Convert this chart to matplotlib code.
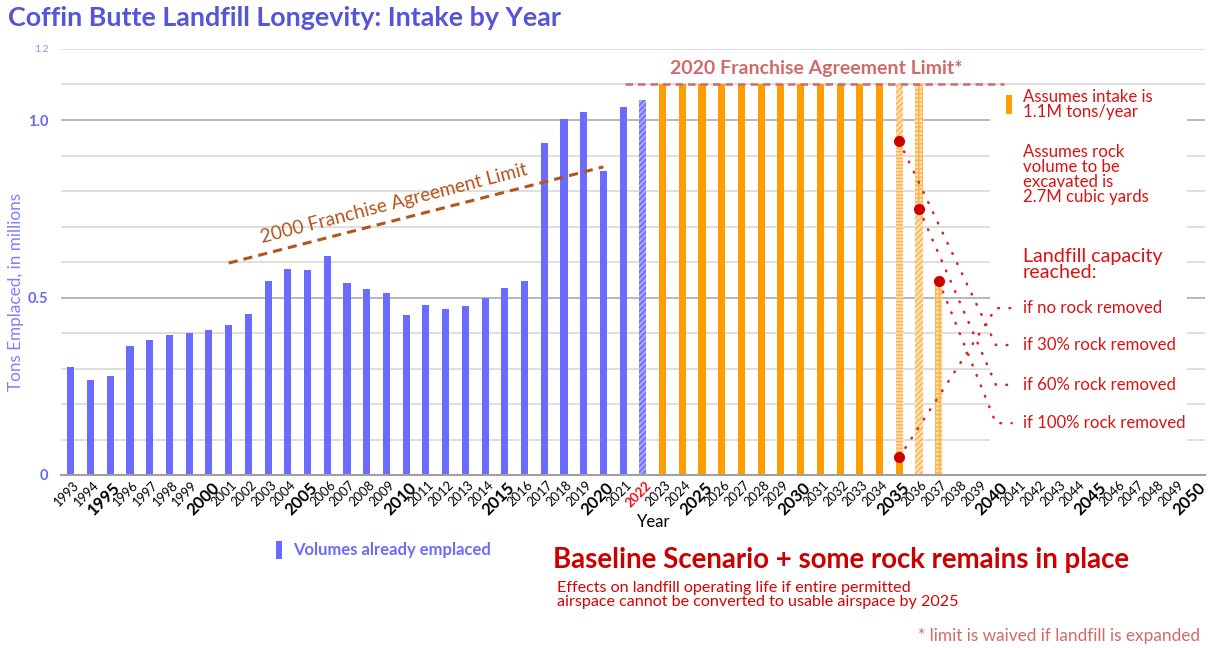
import numpy as np
import matplotlib
matplotlib.use('Agg')
import matplotlib.pyplot as plt
import matplotlib.transforms as mtransforms
from matplotlib.patches import Rectangle

plt.rcParams['font.family'] = ['Lato', 'DejaVu Sans']
plt.rcParams['hatch.linewidth'] = 1.2

# ---- data -------------------------------------------------------------
years = list(range(1993, 2051))
emplaced_years = list(range(1993, 2022))
emplaced = [0.304, 0.268, 0.279, 0.363, 0.380, 0.394, 0.400, 0.408, 0.423, 0.454,
            0.546, 0.580, 0.577, 0.617, 0.541, 0.524, 0.513, 0.451, 0.479, 0.468,
            0.476, 0.499, 0.527, 0.546, 0.935, 1.003, 1.023, 0.856, 1.037]
estimate_year = 2022
estimate_value = 1.056
projected_years = list(range(2023, 2035))
projected = [1.1] * len(projected_years)

# partial bars near end of life: (year, bottom, top, style)
segments = [
    (2035, 0.0, 0.05, 'solid'),
    (2035, 0.05, 0.94, 'horiz'),
    (2035, 0.94, 1.1, 'diag'),
    (2036, 0.0, 0.75, 'diag'),
    (2036, 0.75, 1.1, 'check'),
    (2037, 0.0, 0.546, 'check'),
]

# capacity-reached points and the label levels they point at
cap_years = [2035, 2035, 2036, 2037]
cap_values = [0.05, 0.94, 0.75, 0.546]
cap_labels = ['if no rock removed', 'if 30% rock removed',
              'if 60% rock removed', 'if 100% rock removed']
cap_label_y = [0.470, 0.366, 0.254, 0.146]

limit_2000_years = [2001, 2020]
limit_2000 = [0.597, 0.868]
limit_2020 = 1.1

# ---- colours ----------------------------------------------------------
BLUE = '#6b6bff'
ORANGE = '#ff9d00'
LIGHT_OR = '#ffe2b8'
HATCH_OR = '#ffb54d'
RED = '#dd1111'
PINK = '#d26a6a'
BROWN = '#b5541c'


def xi(y):
    return y - years[0]


fig = plt.figure(figsize=(12.08, 6.48), dpi=100)
ax = fig.add_axes([61 / 1208, (648 - 475) / 648, (1205 - 61) / 1208, (475 - 49) / 648])
ax.set_xlim(-0.5, 57.5)
ax.set_ylim(0, 1.2)

# grid
for v in np.arange(1, 13) / 10:
    major = abs(v - 0.5) < 1e-6 or abs(v - 1.0) < 1e-6
    ax.axhline(v, color='#ababab' if major else '#d9d9d9', lw=1.2, zorder=0.5)

# white panel behind annotations
ax.add_patch(Rectangle((46.6, 0.03), 10.0, 1.03, facecolor='white',
                       edgecolor='none', zorder=1))

w = 0.36
ax.bar([xi(y) for y in emplaced_years], emplaced, width=w, color=BLUE, zorder=2)
ax.bar(xi(estimate_year), estimate_value, width=w, color='#a8a8ff',
       edgecolor=BLUE, hatch='//////', lw=0, zorder=2)
ax.bar([xi(y) for y in projected_years], projected, width=w, color=ORANGE, zorder=2)

styles = {'solid': dict(color=ORANGE),
          'horiz': dict(color=LIGHT_OR, edgecolor=HATCH_OR, hatch='-----', lw=0),
          'diag': dict(color=LIGHT_OR, edgecolor=HATCH_OR, hatch='//////', lw=0),
          'check': dict(color=LIGHT_OR, edgecolor=HATCH_OR, hatch='++++', lw=0)}
for yr, b, t, st in segments:
    ax.bar(xi(yr), t - b, bottom=b, width=w, zorder=2, **styles[st])

# franchise limits
ax.plot([xi(y) for y in limit_2000_years], limit_2000, color=BROWN, lw=2.2,
        dashes=(3, 2), zorder=3)
ax.text(16.4, 0.765, '2000 Franchise Agreement Limit', color=BROWN, fontsize=13.8,
        rotation=14.4, ha='center', va='center', zorder=4)
ax.plot([28.1, 47.3], [limit_2020, limit_2020], color=PINK, lw=1.8,
        dashes=(3, 2), zorder=3)
ax.text(37.8, 1.145, '2020 Franchise Agreement Limit*', color=PINK, fontsize=14,
        fontweight='bold', ha='center', va='center', zorder=4)

# capacity lines
x_end = 46.9
for yr, v, ly in zip(cap_years, cap_values, cap_label_y):
    ax.plot([xi(yr), x_end, 47.7], [v, ly, ly], color='#dd2020', lw=1.8,
            dashes=(0.3, 4.2), dash_capstyle='round', zorder=3)
ax.plot([xi(y) for y in cap_years], cap_values, 'o', color='#cc0000', ms=7, zorder=5)
for lab, ly in zip(cap_labels, cap_label_y):
    ax.text(48.25, ly, lab, color=RED, fontsize=12.1, va='center', zorder=4)

ax.add_patch(Rectangle((47.4, 1.017), 0.3, 0.053, facecolor=ORANGE, zorder=4))
ax.text(48.25, 1.044, 'Assumes intake is\n1.1M tons/year', color=RED,
        fontsize=12.1, va='center', linespacing=0.92, zorder=4)
ax.text(48.25, 0.846, 'Assumes rock\nvolume to be\nexcavated is\n2.7M cubic yards',
        color=RED, fontsize=12.1, va='center', linespacing=0.92, zorder=4)
ax.text(48.25, 0.593, 'Landfill capacity\nreached:', color=RED,
        fontsize=14.2, va='center', linespacing=0.92, zorder=4)

# axes styling
for s in ['top', 'right', 'left']:
    ax.spines[s].set_visible(False)
ax.spines['bottom'].set_color('#a0a0a0')
ax.spines['bottom'].set_linewidth(1.5)
ax.spines['bottom'].set_zorder(6)

ax.set_yticks([0, 0.5, 1.0, 1.2])
ax.set_yticklabels(['0', '0.5', '1.0', '1.2'])
ax.tick_params(axis='y', length=0, pad=9)
for lab in ax.get_yticklabels():
    if lab.get_text() == '1.2':
        lab.set_fontsize(7.5)
        lab.set_color('#8c8cff')
    else:
        lab.set_fontsize(10.5)
        lab.set_fontweight('bold')
        lab.set_color('#6666ff')

ax.set_xticks([xi(y) for y in years])
ax.set_xticklabels([str(y) for y in years], rotation=45, ha='right',
                   rotation_mode='anchor')
ax.tick_params(axis='x', length=0, pad=3)
shift = mtransforms.ScaledTranslation(2 / 100, 0, fig.dpi_scale_trans)
for lab, y in zip(ax.get_xticklabels(), years):
    lab.set_transform(lab.get_transform() + shift)
    if y == 2022:
        lab.set_color('#ee1111')
        lab.set_fontweight('bold')
        lab.set_fontsize(9.5)
    elif y % 5 == 0:
        lab.set_fontweight('bold')
        lab.set_fontsize(12)
    else:
        lab.set_fontsize(9.3)

ax.set_ylabel('Tons Emplaced, in millions', color='#8080ff', fontsize=12.3)
ax.yaxis.set_label_coords(-0.032, 0.43)

# figure texts
fig.text(8 / 1208, 1 - 18 / 648, 'Coffin Butte Landfill Longevity: Intake by Year',
         color='#5555d8', fontsize=19.4, fontweight='bold', va='center')
fig.text(654 / 1208, 1 - 522 / 648, 'Year', fontsize=12, ha='center', va='center')
fig.patches.append(Rectangle((276 / 1208, 1 - 559 / 648), 6 / 1208, 18 / 648,
                             facecolor=BLUE, transform=fig.transFigure, figure=fig))
fig.text(293 / 1208, 1 - 550 / 648, 'Volumes already emplaced', color=BLUE,
         fontsize=12, fontweight='bold', va='center')
fig.text(553 / 1208, 1 - 560 / 648, 'Baseline Scenario + some rock remains in place',
         color='#cc0000', fontsize=19.9, fontweight='bold', va='center')
fig.text(557 / 1208, 1 - 595 / 648,
         'Effects on landfill operating life if entire permitted\n'
         'airspace cannot be converted to usable airspace by 2025',
         color='#dd0000', fontsize=11.6, va='center', linespacing=0.95)
fig.text(1200 / 1208, 1 - 636 / 648, '* limit is waived if landfill is expanded',
         color=PINK, fontsize=12.4, ha='right', va='center')

fig.savefig('out.png', dpi=100)
